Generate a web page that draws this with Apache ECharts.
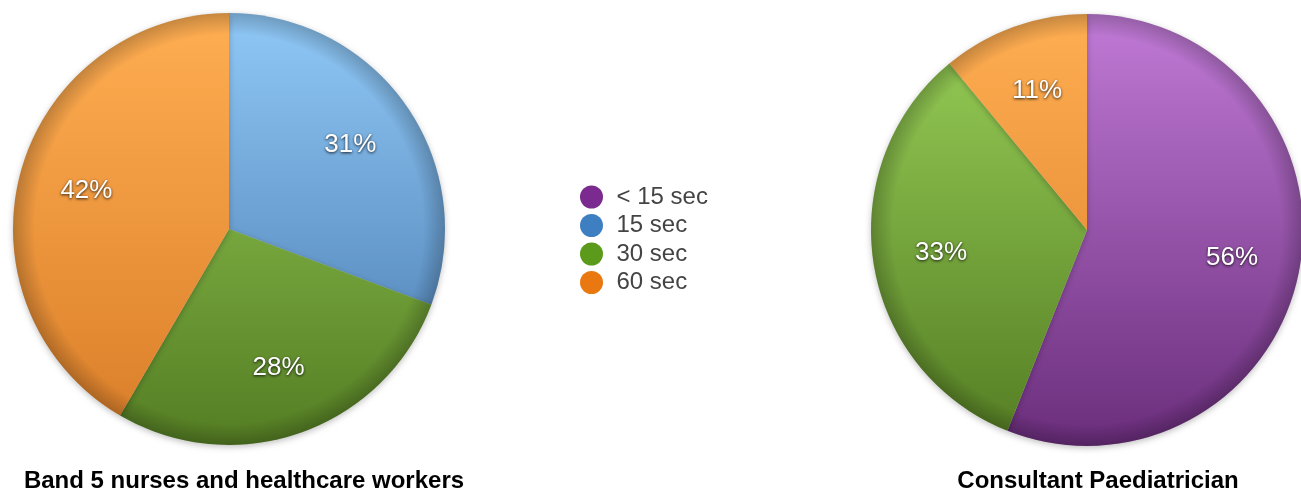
<!DOCTYPE html>
<html>
<head>
<meta charset="utf-8">
<script src="https://cdn.jsdelivr.net/npm/echarts@6/dist/echarts.min.js"></script>
<style>
html, body { margin: 0; padding: 0; background: #fff; }
#chart { width: 1301px; height: 491px; }
</style>
</head>
<body>
<div id="chart"></div>
<script>
// legend categories
var categories = ['< 15 sec', '15 sec', '30 sec', '60 sec'];
var legendColors = ['#7b2a8f', '#3d7fc0', '#5b9a1a', '#e8780f'];

// left pie: Band 5 nurses
var leftNames = ['15 sec', '30 sec', '60 sec'];
var leftValues = [31, 28, 42];

// right pie: Consultant Paediatrician
var rightNames = ['< 15 sec', '30 sec', '60 sec'];
var rightValues = [56, 33, 11];

var chartTitles = ['Band 5 nurses and healthcare workers', 'Consultant Paediatrician'];

// slice gradients (top -> bottom)
var sliceGrad = {
	'< 15 sec' : [ '#c07ad6', '#6a2d7b' ],
	'15 sec' : [ '#8fc8f6', '#4576ab' ],
	'30 sec' : [ '#98cf58', '#547d23' ],
	'60 sec' : [ '#ffae52', '#d97d28' ]
};

function grad(name) {
	return {
		type : 'linear', x : 0, y : 15, x2 : 0, y2 : 447, global : true,
		colorStops : [ { offset : 0, color : sliceGrad[name][0] }, { offset : 1, color : sliceGrad[name][1] } ]
	};
}

function buildData(names, values, colored) {
	var out = [];
	for (var i = 0; i < names.length; i++) {
		out.push({
			name : names[i],
			value : values[i],
			itemStyle : { color : colored ? grad(names[i]) : 'rgba(0,0,0,0)' }
		});
	}
	return out;
}

var R = 216;
var centers = [ [ 229, 229 ], [ 1087, 230 ] ];
var sets = [ [ leftNames, leftValues ], [ rightNames, rightValues ] ];

var series = [];
for (var k = 0; k < 2; k++) {
	// the pie itself
	series.push({
		type : 'pie', center : centers[k], radius : [ 0, R ], silent : true,
		label : { show : false }, labelLine : { show : false },
		itemStyle : { shadowBlur : 6, shadowColor : 'rgba(0,0,0,0.25)', shadowOffsetY : 2 },
		emphasis : { disabled : true },
		data : buildData(sets[k][0], sets[k][1], true), z : 2
	});
	// darker rim
	series.push({
		type : 'pie', center : centers[k], radius : [ 0, R ], silent : true,
		label : { show : false }, labelLine : { show : false }, emphasis : { disabled : true },
		data : [ { value : 1, name : 'rim', itemStyle : { color : {
			type : 'radial', x : 0.5, y : 0.5, r : 0.5,
			colorStops : [ { offset : 0, color : 'rgba(0,0,0,0)' }, { offset : 0.9, color : 'rgba(0,0,0,0)' },
				{ offset : 1, color : 'rgba(0,0,0,0.22)' } ]
		} } } ], z : 3
	});
	// invisible bigger pie that only places the labels further out
	series.push({
		type : 'pie', center : centers[k], radius : [ 0, R * 1.34 ], silent : true,
		labelLine : { show : false }, emphasis : { disabled : true },
		label : {
			show : true, position : 'inside', color : '#fff', fontSize : 26,
			fontFamily : 'Liberation Sans', fontWeight : 'normal',
			textShadowColor : 'rgba(0,0,0,0.85)', textShadowBlur : 3, textShadowOffsetY : 1,
			formatter : function(p) { return p.value + '%'; }
		},
		data : buildData(sets[k][0], sets[k][1], false), z : 4
	});
}

var legendData = [];
for (var i = 0; i < categories.length; i++) {
	legendData.push({ name : categories[i], itemStyle : { color : legendColors[i] } });
}

var myChart = echarts.init(document.getElementById('chart'));
myChart.setOption({
	animation : false,
	legend : {
		data : legendData, orient : 'vertical', left : 575, top : 180, icon : 'circle',
		itemWidth : 40, itemHeight : 23, itemGap : 4.5, selectedMode : false,
		textStyle : { color : '#444', fontSize : 24, fontFamily : 'Liberation Sans' }
	},
	graphic : [
		{ type : 'text', x : 244, y : 481, style : { text : chartTitles[0], align : 'center', verticalAlign : 'middle',
			font : 'bold 24px "Liberation Sans"', fill : '#000' } },
		{ type : 'text', x : 1098, y : 481, style : { text : chartTitles[1], align : 'center', verticalAlign : 'middle',
			font : 'bold 24px "Liberation Sans"', fill : '#000' } }
	],
	series : series
});
</script>
</body>
</html>
